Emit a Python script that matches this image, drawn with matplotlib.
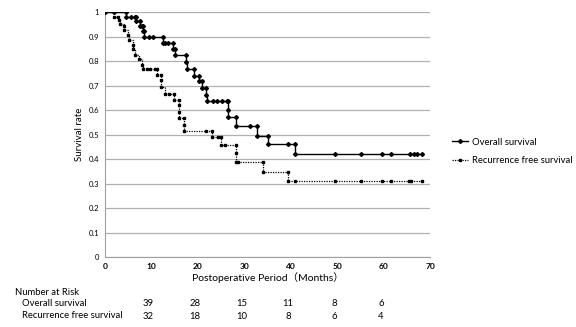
import matplotlib
matplotlib.use("Agg")
import matplotlib.pyplot as plt
from matplotlib.lines import Line2D

plt.rcParams["font.family"] = ["Lato", "DejaVu Sans"]

# Overall survival: step points (months, survival)
os_months = [0, 2.0, 4.5, 4.5, 5.6, 6.5, 6.7, 6.7, 7.5, 7.5, 7.9, 8.2, 8.2, 8.4, 8.4,
             9.4, 10.3, 12.6, 12.6, 13.0, 13.5, 14.6, 14.6, 15.2, 15.2, 17.5, 17.5,
             17.6, 19.1, 19.1, 20.2, 20.2, 20.9, 20.9, 21.8, 21.8, 21.9, 23.2, 24.2,
             25.2, 26.2, 26.4, 26.4, 26.6, 28.2, 28.2, 31.2, 32.7, 32.7, 35.1, 35.1,
             39.3, 40.8, 40.8, 49.5, 55.1, 59.6, 61.5, 65.7, 66.4, 67.1, 68.2]
os_surv = [1.0, 1.0, 1.0, 0.98, 0.98, 0.98, 0.98, 0.964, 0.964, 0.943, 0.943, 0.943,
           0.923, 0.923, 0.90, 0.90, 0.90, 0.90, 0.874, 0.874, 0.874, 0.874, 0.851,
           0.851, 0.826, 0.826, 0.796, 0.768, 0.768, 0.741, 0.741, 0.718, 0.718, 0.690,
           0.690, 0.663, 0.638, 0.638, 0.638, 0.638, 0.638, 0.638, 0.601, 0.570, 0.570,
           0.536, 0.536, 0.536, 0.495, 0.495, 0.461, 0.461, 0.461, 0.419, 0.419, 0.419,
           0.419, 0.419, 0.419, 0.419, 0.419, 0.419]

# Recurrence free survival
rfs_months = [0, 1.9, 1.9, 2.8, 3.0, 3.2, 4.1, 4.1, 5.0, 5.2, 6.0, 6.1, 6.5, 7.4, 7.9,
              8.3, 9.0, 9.7, 10.8, 11.3, 11.3, 12.0, 12.0, 12.0, 12.9, 13.9, 14.9, 14.9,
              16.0, 16.0, 16.0, 16.0, 17.0, 17.0, 17.0, 21.8, 23.0, 23.0, 24.4, 24.9,
              24.9, 25.9, 28.2, 28.2, 28.2, 28.7, 34.1, 34.1, 39.3, 39.3, 40.9, 49.6,
              55.1, 59.6, 61.5, 65.5, 65.8, 68.2]
rfs_surv = [1.0, 1.0, 0.982, 0.982, 0.966, 0.953, 0.943, 0.925, 0.905, 0.887, 0.867,
            0.85, 0.826, 0.807, 0.785, 0.769, 0.769, 0.769, 0.769, 0.769, 0.742, 0.742,
            0.721, 0.693, 0.667, 0.667, 0.667, 0.642, 0.642, 0.619, 0.592, 0.567, 0.567,
            0.541, 0.514, 0.514, 0.514, 0.488, 0.488, 0.488, 0.456, 0.456, 0.456, 0.424,
            0.388, 0.388, 0.388, 0.348, 0.348, 0.309, 0.309, 0.309, 0.309, 0.309, 0.309,
            0.309, 0.309, 0.309]

risk_months = [10, 20, 30, 40, 50, 60]
risk_os = [39, 28, 15, 11, 8, 6]
risk_rfs = [32, 18, 10, 8, 6, 4]

fig = plt.figure(figsize=(5.76, 3.27), dpi=100)
ax = fig.add_axes([0.182, 0.214, 0.565, 0.749])

ax.plot(os_months, os_surv, drawstyle="steps-post", color="black", lw=1.0,
        marker="D", ms=2.0, zorder=3)
ax.plot(rfs_months, rfs_surv, drawstyle="steps-post", color="black", lw=0.9,
        ls=(0, (1, 1)), marker="s", ms=2.0, zorder=3)

ax.set_xlim(0, 70)
ax.set_ylim(0, 1)
ax.set_xticks(range(0, 71, 10))
ax.set_yticks([i / 10 for i in range(11)])
ax.set_yticklabels(["0"] + [f"0.{i}" for i in range(1, 10)] + ["1"])
ax.tick_params(axis="x", labelsize=6, length=0, pad=4)
ax.tick_params(axis="y", labelsize=5.5, length=0, pad=4)
for lab in ax.get_xticklabels():
    lab.set_fontweight("bold")
ax.grid(axis="y", color="#b0b0b0", lw=0.9)
ax.set_axisbelow(True)
for s in ["top", "right"]:
    ax.spines[s].set_visible(False)
ax.spines["left"].set_color("#a0a0a0")
ax.spines["bottom"].set_color("#a0a0a0")
ax.set_ylabel("Survival rate", fontsize=7, labelpad=3)
ax.set_xlabel("Postoperative Period（Months）", fontsize=7.5, labelpad=2,
              family=["Lato", "Noto Sans CJK JP", "DejaVu Sans"])

handles = [Line2D([], [], color="black", lw=1.0, marker="D", ms=2.0),
           Line2D([], [], color="black", lw=0.9, ls=(0, (1, 1)), marker="s", ms=2.0)]
fig.legend(handles, ["Overall survival", "Recurrence free survival"],
           loc="center left", bbox_to_anchor=(0.785, 0.537), frameon=False,
           fontsize=6.8, handlelength=1.7, handletextpad=0.35, labelspacing=1.0,
           borderpad=0, borderaxespad=0)

# number at risk table
fs = 6.8
fig.text(0.026, 0.107, "Number at Risk", fontsize=fs, va="center")
fig.text(0.038, 0.073, "Overall survival", fontsize=fs, va="center")
fig.text(0.038, 0.034, "Recurrence free survival", fontsize=fs, va="center")
xt = ax.get_xaxis_transform()
for m, a, b in zip(risk_months, risk_os, risk_rfs):
    ax.text(m - 0.6, -0.188, str(a), transform=xt, ha="center", va="center",
            fontsize=fs, clip_on=False)
    ax.text(m - 0.6, -0.241, str(b), transform=xt, ha="center", va="center",
            fontsize=fs, clip_on=False)

fig.savefig("out.png", dpi=100)
